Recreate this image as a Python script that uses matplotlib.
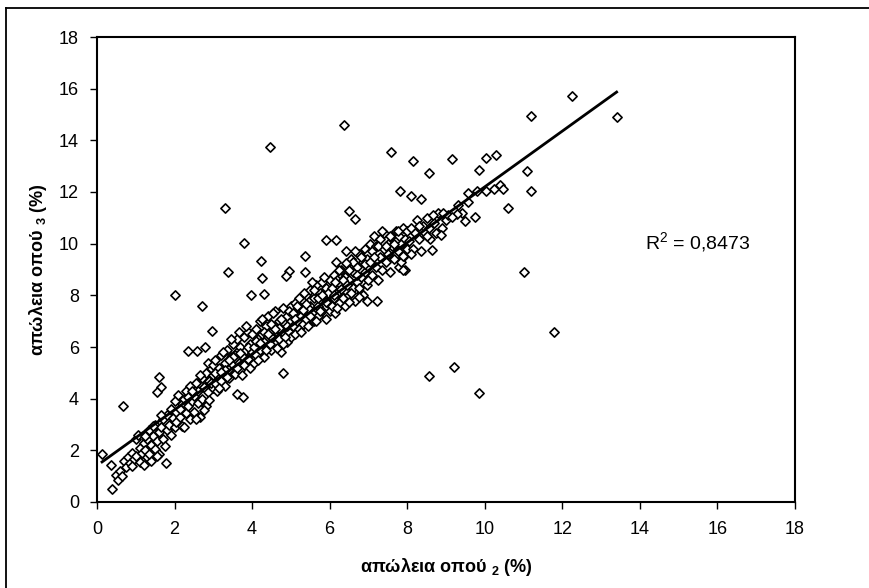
import matplotlib
matplotlib.use("Agg")
import matplotlib.pyplot as plt
from matplotlib.lines import Line2D
import numpy as np

plt.rcParams['font.family'] = ['Liberation Sans', 'DejaVu Sans']
plt.rcParams['mathtext.fontset'] = 'custom'
plt.rcParams['mathtext.rm'] = 'Liberation Sans'
plt.rcParams['mathtext.bf'] = 'Liberation Sans:bold'

# ---------------- data ----------------
band_x = [
    0.35, 0.5, 0.55, 0.6, 0.7, 0.75, 0.8, 0.85, 0.9, 0.95, 1.0, 1.0, 0.65, 0.9,
    1.05, 1.1, 1.1, 1.15, 1.2, 1.2, 1.25, 1.3, 1.3, 1.35, 1.4, 1.4, 1.45, 1.5, 1.5, 1.55, 1.6, 1.6,
    1.65, 1.7, 1.7, 1.75, 1.8, 1.8, 1.85, 1.9, 1.9, 1.95, 2.0, 2.0, 1.25, 1.55, 1.65, 1.35, 1.45,
    2.05, 2.05, 2.1, 2.15, 2.2, 2.2, 2.25, 2.3, 2.3, 2.35, 2.4, 2.4, 2.45, 2.5, 2.5, 2.55, 2.6, 2.6,
    2.65, 2.7, 2.7, 2.75, 2.8, 2.8, 2.85, 2.9, 2.9, 2.95, 3.0, 3.0, 2.15, 2.35, 2.55, 2.65, 2.75,
    2.85, 2.25, 2.45, 2.95, 3.0,
    3.05, 3.05, 3.1, 3.1, 3.15, 3.2, 3.2, 3.25, 3.3, 3.3, 3.35, 3.4, 3.4, 3.45, 3.5, 3.5, 3.55, 3.6,
    3.6, 3.65, 3.7, 3.7, 3.75, 3.8, 3.8, 3.85, 3.9, 3.9, 3.95, 4.0, 4.0, 3.15, 3.25, 3.35, 3.45,
    3.55, 3.65, 3.75, 3.85, 3.95, 3.05, 3.3, 3.5, 3.7, 3.9, 3.6, 3.4, 3.2,
    4.05, 4.05, 4.1, 4.1, 4.15, 4.2, 4.2, 4.25, 4.3, 4.3, 4.35, 4.4, 4.4, 4.45, 4.5, 4.5, 4.55, 4.6,
    4.6, 4.65, 4.7, 4.7, 4.75, 4.8, 4.8, 4.85, 4.9, 4.9, 4.95, 5.0, 5.0, 5.0, 4.15, 4.25, 4.35, 4.45,
    4.55, 4.65, 4.75, 4.85, 4.95, 4.1, 4.3, 4.5, 4.7, 4.9, 4.4, 4.6, 4.2, 4.8,
    5.05, 5.05, 5.1, 5.1, 5.15, 5.2, 5.2, 5.25, 5.3, 5.3, 5.35, 5.4, 5.4, 5.45, 5.5, 5.5, 5.55, 5.6,
    5.6, 5.65, 5.7, 5.7, 5.75, 5.8, 5.8, 5.85, 5.9, 5.9, 5.95, 6.0, 6.0, 6.0, 5.15, 5.25, 5.35, 5.45,
    5.55, 5.65, 5.75, 5.85, 5.95, 5.1, 5.3, 5.5, 5.7, 5.9, 5.4, 5.6, 5.2, 5.8,
    6.05, 6.05, 6.1, 6.1, 6.15, 6.2, 6.2, 6.25, 6.3, 6.3, 6.35, 6.4, 6.4, 6.45, 6.5, 6.5, 6.55, 6.6,
    6.6, 6.65, 6.7, 6.7, 6.75, 6.8, 6.8, 6.85, 6.9, 6.9, 6.95, 7.0, 7.0, 7.0, 6.15, 6.25, 6.35, 6.45,
    6.55, 6.65, 6.75, 6.85, 6.95, 6.1, 6.3, 6.5, 6.7, 6.9, 6.4, 6.6, 6.2, 6.8,
    7.05, 7.05, 7.1, 7.1, 7.15, 7.2, 7.2, 7.25, 7.3, 7.3, 7.35, 7.4, 7.4, 7.45, 7.5, 7.5, 7.55, 7.6,
    7.6, 7.65, 7.7, 7.7, 7.75, 7.8, 7.8, 7.85, 7.9, 7.9, 7.95, 8.0, 8.0, 7.15, 7.25, 7.35, 7.45,
    7.55, 7.65, 7.75, 7.85, 7.95,
    8.05, 8.1, 8.15, 8.2, 8.25, 8.3, 8.35, 8.4, 8.45, 8.5, 8.55, 8.6, 8.7, 8.75, 8.8, 8.9, 9.0,
    8.1, 8.3, 8.5, 9.05, 9.3, 9.4,
]
band_y = [
    1.45, 1.05, 0.85, 1.2, 1.6, 1.35, 1.75, 1.5, 1.9, 1.65, 2.45, 1.8, 1.0, 1.4,
    2.6, 2.1, 1.55, 1.9, 2.3, 1.45, 2.0, 2.45, 1.75, 2.8, 2.2, 1.6, 2.55, 2.05, 3.0, 2.35, 2.7, 1.85,
    2.9, 3.2, 2.45, 2.15, 3.35, 2.8, 3.0, 3.6, 2.6, 3.25, 3.9, 2.9, 2.55, 1.8, 3.35, 1.85, 2.95,
    3.5, 3.1, 4.15, 3.3, 3.8, 2.95, 4.0, 3.45, 4.3, 3.7, 3.2, 4.5, 3.9, 4.1, 3.5, 4.6, 3.85, 4.3,
    3.3, 4.8, 4.0, 4.45, 3.7, 5.0, 4.25, 4.7, 3.95, 5.2, 4.4, 4.9, 3.6, 4.05, 3.2, 4.9, 3.55,
    5.4, 2.9, 4.3, 4.6, 5.3,
    4.6, 5.5, 4.95, 4.3, 5.2, 5.7, 4.7, 5.0, 5.4, 4.5, 5.9, 5.15, 4.8, 5.6, 6.1, 5.3, 4.95, 5.8,
    6.3, 5.4, 5.1, 6.0, 5.65, 6.4, 5.3, 5.9, 6.6, 5.55, 6.1, 5.8, 6.5, 4.4, 5.8, 4.85, 6.3,
    5.7, 6.6, 4.9, 6.8, 5.2, 5.0, 5.1, 5.6, 5.75, 6.0, 5.2, 5.5, 5.05,
    6.0, 5.4, 6.7, 5.7, 6.3, 5.9, 7.0, 6.5, 5.6, 6.2, 6.8, 6.0, 7.2, 6.55, 5.9, 6.9, 6.35, 7.4,
    6.1, 6.7, 7.0, 6.3, 5.8, 6.6, 7.5, 6.9, 6.2, 7.2, 6.6, 7.0, 6.4, 7.6, 5.5, 7.1, 5.9, 6.1,
    7.3, 5.95, 7.1, 6.4, 7.4, 6.25, 6.6, 6.4, 6.75, 6.8, 6.5, 6.7, 6.15, 6.1,
    6.8, 7.3, 6.5, 7.7, 7.0, 7.5, 6.7, 7.2, 7.8, 6.9, 7.4, 8.0, 7.1, 6.8, 7.6, 8.2, 7.3, 7.9,
    7.0, 8.4, 7.6, 7.2, 8.1, 7.4, 8.5, 7.9, 7.1, 8.3, 7.7, 8.0, 8.6, 7.4, 7.6, 6.6, 8.1, 7.5,
    8.5, 7.0, 7.4, 8.7, 8.1, 7.1, 7.45, 7.2, 7.9, 7.75, 7.65, 8.2, 7.9, 8.0,
    7.6, 8.3, 7.9, 8.8, 7.3, 8.1, 8.6, 7.7, 8.4, 9.0, 7.9, 8.7, 8.2, 9.2, 8.0, 8.6, 9.4, 8.3,
    8.9, 7.8, 9.1, 8.5, 9.6, 8.7, 8.1, 9.3, 8.9, 9.8, 8.4, 9.1, 9.6, 8.6, 8.5, 9.0, 8.6, 8.4,
    8.1, 9.7, 8.3, 8.0, 9.4, 8.0, 8.25, 9.0, 8.8, 9.2, 7.6, 9.3, 7.5, 9.5,
    9.3, 10.0, 8.8, 9.7, 10.3, 9.1, 9.9, 8.6, 9.5, 10.2, 9.0, 9.8, 10.4, 9.3, 10.0, 9.6, 8.9, 9.9,
    10.3, 9.4, 10.1, 10.5, 9.7, 10.3, 9.1, 10.0, 10.6, 9.5, 10.2, 9.8, 10.5, 9.5, 9.9, 10.5, 9.9,
    10.3, 10.0, 10.5, 9.3, 9.0,
    10.1, 10.6, 9.8, 10.4, 10.9, 10.2, 9.7, 10.7, 10.4, 11.0, 10.6, 10.2, 10.8, 10.4, 11.2, 10.6, 10.9,
    9.6, 10.7, 10.3, 11.1, 11.5, 11.2,
]
outlier_x = [
    0.13, 0.39, 0.67, 1.6, 1.65, 1.55, 1.78, 2.0, 2.7, 2.97, 2.35, 2.57, 2.78, 3.61, 3.76, 4.8,
    3.38, 4.23, 4.25, 4.3, 3.97, 4.95, 4.87, 5.36, 5.36, 3.3, 4.46, 6.37, 3.79, 5.9, 6.16, 6.42,
    6.16, 6.42, 6.5, 6.65, 7.58, 8.15, 8.56, 9.15, 7.81, 8.1, 8.35, 9.85, 10.03, 10.29, 8.56, 9.2,
    9.85, 7.22, 6.96, 6.76, 6.5, 7.9, 7.9, 11.0, 11.78, 12.25, 11.2, 13.4, 11.1, 11.2, 10.6, 10.4,
    10.47, 10.24, 10.03, 9.8, 9.56, 9.57, 9.75, 9.49, 9.28, 9.15, 8.93, 8.67, 8.87, 8.64,
]
outlier_y = [
    1.86, 0.5, 3.72, 4.84, 4.45, 4.26, 1.52, 8.0, 7.6, 6.62, 5.85, 5.85, 6.0, 4.18, 4.07, 5.0,
    8.9, 9.33, 8.67, 8.05, 8.0, 8.94, 8.75, 9.52, 8.9, 11.4, 13.75, 14.6, 10.03, 10.14, 10.14, 9.72,
    9.3, 9.25, 11.27, 10.96, 13.55, 13.2, 12.74, 13.28, 12.04, 11.85, 11.73, 12.85, 13.3, 13.43, 4.88, 5.23,
    4.22, 7.78, 7.78, 7.94, 7.74, 8.98, 9.52, 8.9, 6.58, 15.72, 14.95, 14.9, 12.8, 12.04, 11.38, 12.27,
    12.1, 12.1, 12.05, 12.05, 11.96, 11.6, 11.03, 10.87, 11.15, 11.03, 11.19, 11.1, 10.34, 9.76,
]
# linear trend line as drawn in the reference
trend_slope = 1.079
trend_intercept = 1.41
r2_text = "0,8473"
x_label = r"απώλεια οπού $_\mathbf{2}$ (%)"
y_label = r"απώλεια οπού $_\mathbf{3}$ (%)"
ticks = list(range(0, 19, 2))

x = np.array(band_x + outlier_x)
y = np.array(band_y + outlier_y)

# ---------------- figure ----------------
W, H = 870, 588
fig = plt.figure(figsize=(W / 100, H / 100), dpi=100)
ax = fig.add_axes([97 / W, 1 - 502 / H, (795 - 97) / W, (502 - 37) / H])

ax.scatter(x, y, marker='D', s=22, facecolors='white', edgecolors='black',
           linewidths=1.2, zorder=2)

xl = np.array([x.min(), x.max()])
ax.plot(xl, trend_intercept + trend_slope * xl, color='black', lw=2, zorder=3)

ax.set_xlim(0, 18)
ax.set_ylim(0, 18)
ax.set_xticks(ticks)
ax.set_yticks(ticks)
ax.tick_params(direction='out', length=5, width=1, labelsize=13, colors='black')
ax.tick_params(axis='x', pad=9)
ax.tick_params(axis='y', pad=8)
for s in ax.spines.values():
    s.set_linewidth(1.5)
    s.set_color('black')

ax.set_xlabel(x_label, fontsize=13, fontweight='bold', labelpad=13)
ax.set_ylabel(y_label, fontsize=13, fontweight='bold', labelpad=7)

ax.text(14.13, 9.76, r"R$^2$ = " + r2_text, fontsize=14, ha='left', va='baseline')

# outer chart-area frame (partially visible)
fig.add_artist(Line2D([6 / W, 6 / W], [0, 1 - 8 / H], transform=fig.transFigure,
                      color='black', lw=1.3))
fig.add_artist(Line2D([6 / W, 1], [1 - 8 / H, 1 - 8 / H], transform=fig.transFigure,
                      color='black', lw=1.3))

fig.savefig("out.png", dpi=100, facecolor='white')
